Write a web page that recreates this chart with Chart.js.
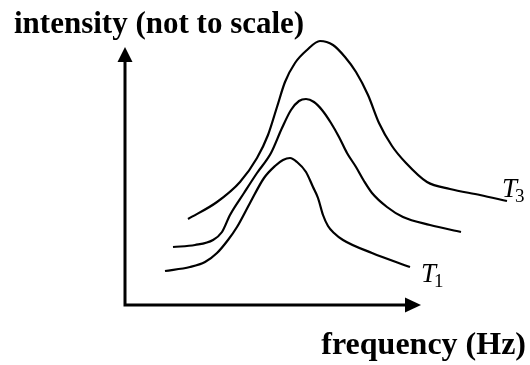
<!DOCTYPE html>
<html>
<head>
<meta charset="utf-8">
<script src="https://cdn.jsdelivr.net/npm/chart.js@4/dist/chart.umd.min.js"></script>
<style>
  html, body { margin: 0; padding: 0; background: #fff; }
  #wrap { width: 530px; height: 365px; position: relative; }
</style>
</head>
<body>
<div id="wrap"><canvas id="spectrum"></canvas></div>
<script>
// Sketch values (not to scale): frequency vs intensity, arbitrary units
const freqT3 = [6.3, 9.2, 11.5, 13.2, 14.3, 15.2, 16.0, 17.0, 18.2, 19.5, 20.8, 22.0, 23.1, 24.3, 25.4, 26.7, 28.1, 30.2, 32.5, 35.5, 38.2];
const intT3  = [8.6, 10.3, 12.3, 14.7, 17.0, 19.8, 22.3, 24.2, 25.5, 26.4, 26.0, 24.8, 23.3, 21.0, 18.2, 15.9, 14.2, 12.3, 11.6, 11.0, 10.4];

const freqT2 = [4.8, 7.0, 8.8, 9.7, 10.5, 11.9, 13.2, 14.6, 15.7, 16.6, 17.4, 18.1, 18.9, 19.7, 20.6, 21.4, 22.2, 23.1, 23.9, 24.7, 26.2, 27.8, 30.5, 33.6];
const intT2  = [5.8, 6.0, 6.5, 7.3, 9.0, 11.2, 13.2, 15.2, 17.7, 19.5, 20.4, 20.6, 20.3, 19.5, 18.2, 16.8, 15.2, 13.8, 12.4, 11.2, 9.8, 8.8, 8.0, 7.3];

const freqT1 = [4.0, 6.5, 8.0, 9.2, 10.3, 11.2, 12.5, 13.9, 15.0, 15.8, 16.5, 17.2, 18.1, 18.8, 19.3, 19.8, 20.3, 20.9, 21.8, 24.7, 28.5];
const intT1  = [3.4, 3.8, 4.3, 5.2, 6.5, 7.8, 10.2, 12.7, 13.9, 14.5, 14.7, 14.3, 13.3, 11.8, 10.7, 9.0, 7.9, 7.2, 6.5, 5.2, 3.8];

const curveNames = ['T3', 'T2', 'T1'];
const curveLabels = [['T', '3'], null, ['T', '1']];

// extent of the drawn axis arrows
const freqAxisEnd = 29.6;
const intAxisEnd = 25.8;

const titleText = 'intensity (not to scale)';
const xLabelText = 'frequency (Hz)';

const toPoints = (xs, ys) => xs.map((x, i) => ({ x, y: ys[i] }));

const lineStyle = {
  borderColor: '#000',
  borderWidth: 2.2,
  pointRadius: 0,
  showLine: true,
  fill: false,
  cubicInterpolationMode: 'monotone'
};

// axes with arrow heads, drawn from the scales
const arrowAxes = {
  id: 'arrowAxes',
  afterDatasetsDraw(chart) {
    const { ctx, scales: { x, y } } = chart;
    const ox = x.getPixelForValue(0), oy = y.getPixelForValue(0);
    const xe = x.getPixelForValue(freqAxisEnd), ye = y.getPixelForValue(intAxisEnd);
    ctx.save();
    ctx.strokeStyle = '#000';
    ctx.fillStyle = '#000';
    ctx.lineWidth = 3;
    ctx.beginPath();
    ctx.moveTo(ox, ye + 12);
    ctx.lineTo(ox, oy);
    ctx.lineTo(xe - 12, oy);
    ctx.stroke();
    // y arrow
    ctx.beginPath();
    ctx.moveTo(ox, ye);
    ctx.lineTo(ox - 7.5, ye + 15);
    ctx.lineTo(ox + 7.5, ye + 15);
    ctx.closePath();
    ctx.fill();
    // x arrow
    ctx.beginPath();
    ctx.moveTo(xe, oy);
    ctx.lineTo(xe - 16, oy - 7.5);
    ctx.lineTo(xe - 16, oy + 7.5);
    ctx.closePath();
    ctx.fill();
    ctx.restore();
  }
};

// title, axis label and curve labels
const sketchText = {
  id: 'sketchText',
  afterDraw(chart) {
    const { ctx } = chart;
    ctx.save();
    ctx.fillStyle = '#000';
    ctx.textBaseline = 'alphabetic';
    ctx.font = 'bold 31px "Liberation Serif", "Times New Roman", serif';
    ctx.textAlign = 'left';
    ctx.fillText(titleText, 14, 33);
    ctx.font = 'bold 32px "Liberation Serif", "Times New Roman", serif';
    ctx.textAlign = 'right';
    ctx.fillText(xLabelText, 526, 354);

    ctx.textAlign = 'left';
    const offsets = [[-5, -4], null, [11, 15]];
    chart.data.datasets.forEach((ds, i) => {
      const lab = curveLabels[i];
      if (!lab) return;
      const pts = chart.getDatasetMeta(i).data;
      const last = pts[pts.length - 1];
      const lx = last.x + offsets[i][0];
      const ly = last.y + offsets[i][1];
      ctx.font = 'italic 27px "Liberation Serif", "Times New Roman", serif';
      ctx.fillText(lab[0], lx, ly);
      const w = ctx.measureText(lab[0]).width;
      ctx.font = '19px "Liberation Serif", "Times New Roman", serif';
      ctx.fillText(lab[1], lx + w - 2, ly + 5);
    });
    ctx.restore();
  }
};

new Chart(document.getElementById('spectrum'), {
  type: 'scatter',
  data: {
    datasets: [
      { label: curveNames[0], data: toPoints(freqT3, intT3), ...lineStyle },
      { label: curveNames[1], data: toPoints(freqT2, intT2), ...lineStyle },
      { label: curveNames[2], data: toPoints(freqT1, intT1), ...lineStyle }
    ]
  },
  options: {
    responsive: true,
    maintainAspectRatio: false,
    animation: false,
    layout: { padding: { left: 125, right: 5, top: 35, bottom: 60 } },
    plugins: {
      legend: { display: false },
      tooltip: { enabled: false },
      title: { display: false }
    },
    scales: {
      x: { type: 'linear', min: 0, max: 40, display: false },
      y: { type: 'linear', min: 0, max: 27, display: false }
    }
  },
  plugins: [arrowAxes, sketchText]
});
</script>
</body>
</html>
